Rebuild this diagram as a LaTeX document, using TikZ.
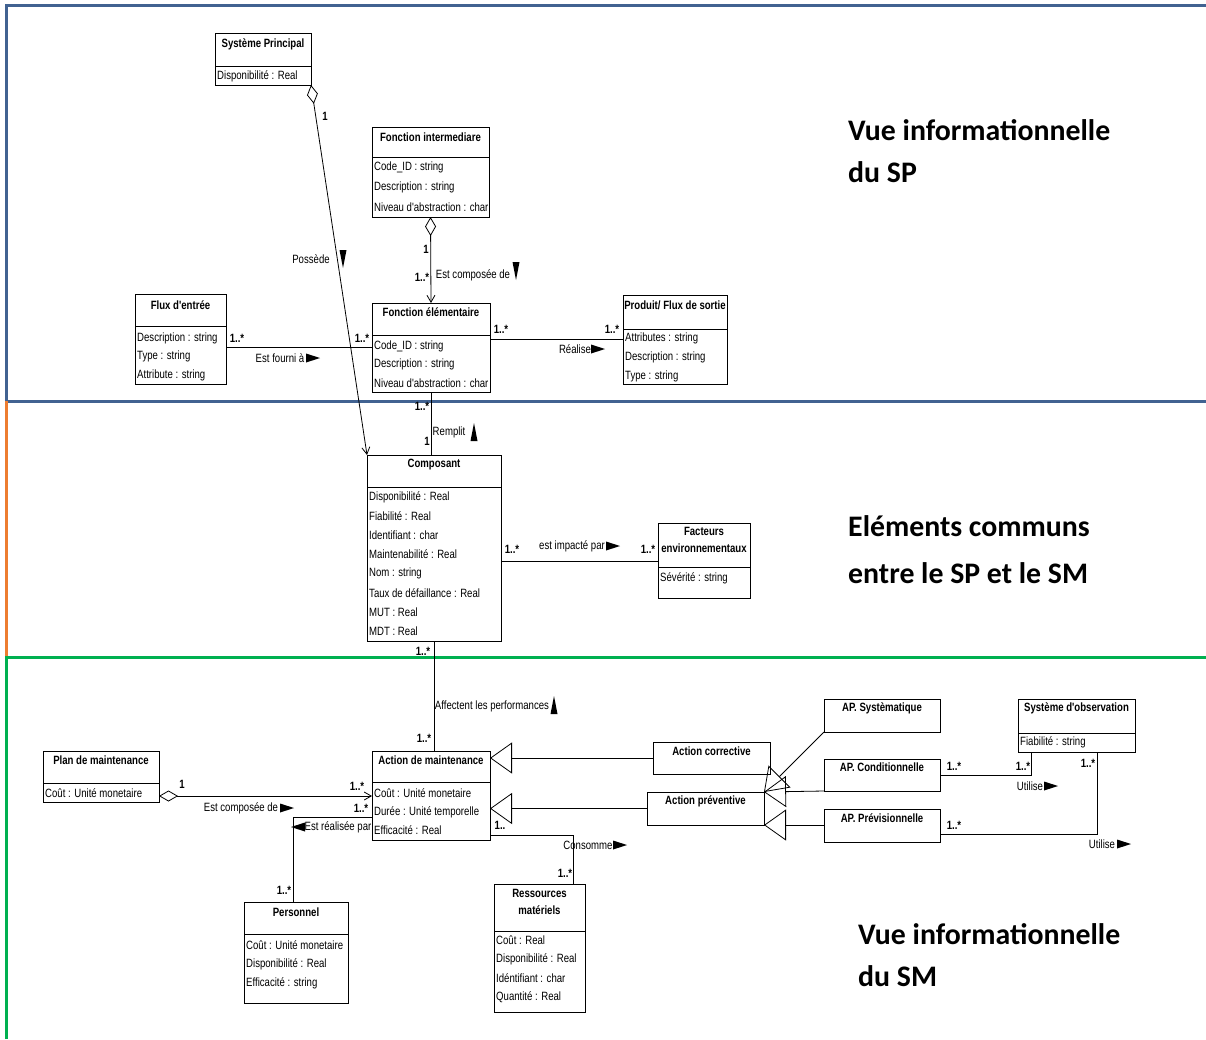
\documentclass[tikz,border=0pt]{standalone}
\usepackage{fontspec}
\setmainfont{Liberation Sans}
\newfontfamily\umlf[FakeStretch=0.8]{Liberation Sans}
\newfontfamily\bigf{Carlito}
\usetikzlibrary{arrows.meta,calc}

\tikzset{
  box/.style={draw, line width=0.9pt, inner sep=0pt, outer sep=0pt, anchor=north west},
  ttl/.style={font=\umlf\fontsize{12}{14}\selectfont\bfseries, inner sep=0pt},
  attr/.style={font=\umlf\fontsize{12}{14}\selectfont, inner sep=0pt, anchor=west},
  lbl/.style={font=\umlf\fontsize{12}{14}\selectfont, inner sep=0pt},
  mult/.style={font=\umlf\fontsize{12}{14}\selectfont\bfseries, inner sep=0pt},
  big/.style={font=\bigf\fontsize{29.8}{36}\selectfont\bfseries, inner sep=0pt, anchor=west},
  conn/.style={line width=0.8pt},
  agg/.style={conn, {Diamond[open,length=19pt,width=11pt]}-{Straight Barb[length=7pt,width=8pt]}},
  gen/.style={conn, -{Triangle[open,length=22pt,width=31pt]}},
  sepline/.style={line width=0.9pt},
  tri right/.pic={\fill (-7,-4.5) -- (7,0) -- (-7,4.5) -- cycle;},
  tri left/.pic={\fill (7,-4.5) -- (-7,0) -- (7,4.5) -- cycle;},
  tri down/.pic={\fill (-3.5,-9) -- (3.5,-9) -- (0,9) -- cycle;},
  tri up/.pic={\fill (-3.5,9) -- (3.5,9) -- (0,-9) -- cycle;},
}

% name, x, y, width, height, separator offset
\newcommand\umlbox[6]{%
  \node[box, minimum width=#4pt, minimum height=#5pt] (#1) at (#2,#3) {};
  \draw[sepline] ([yshift=-#6pt]#1.north west) -- ([yshift=-#6pt]#1.north east);}
\newcommand\umlplain[5]{%
  \node[box, minimum width=#4pt, minimum height=#5pt] (#1) at (#2,#3) {};}

\begin{document}
\begin{tikzpicture}[x=1pt, y=-1pt]
\fill[white] (0,0) rectangle (1206,1039);
\useasboundingbox (0,0) rectangle (1206,1039);

% section frames
\draw[line width=3pt, color={rgb,255:red,65;green,98;blue,145}] (1206,5.5) -- (6.8,5.5) -- (6.8,401) -- (1206,401);
\draw[line width=3pt, color={rgb,255:red,237;green,125;blue,49}] (6.8,401) -- (6.8,657);
\draw[line width=3pt, color={rgb,255:red,0;green,176;blue,80}] (6.8,1039) -- (6.8,657) -- (1206,657);

% big labels
\node[big] (v1a) at (848,130) {Vue informationnelle};
\node[big] (v1b) at (848,172) {du SP};
\node[big] (v2a) at (848,526) {Eléments communs};
\node[big] (v2b) at (848,573) {entre le SP et le SM};
\node[big] (v3a) at (858,934) {Vue informationnelle};
\node[big] (v3b) at (858,976) {du SM};

% ---------- classes ----------
\umlbox{sp}{215}{33}{96}{52}{33}
\node[ttl] (sp-t) at (263,44) {Système Principal};
\node[attr] (sp-a1) at (217,76) {Disponibilité : Real};

\umlbox{fi}{372}{127}{117}{90}{30}
\node[ttl] (fi-t) at (430.5,137) {Fonction intermediare};
\node[attr] (fi-a1) at (374,167) {Code\_ID : string};
\node[attr] (fi-a2) at (374,187) {Description : string};
\node[attr] (fi-a3) at (374,207) {Niveau d'abstraction : char};

\umlbox{fe}{372}{303}{118}{89}{32}
\node[ttl] (fe-t) at (431,312) {Fonction élémentaire};
\node[attr] (fe-a1) at (374,346) {Code\_ID : string};
\node[attr] (fe-a2) at (374,364.5) {Description : string};
\node[attr] (fe-a3) at (374,383) {Niveau d'abstraction : char};

\umlbox{flux}{135}{294}{91}{90}{32}
\node[ttl] (flux-t) at (180.5,305) {Flux d'entrée};
\node[attr] (flux-a1) at (137,338) {Description : string};
\node[attr] (flux-a2) at (137,356) {Type : string};
\node[attr] (flux-a3) at (137,375) {Attribute : string};

\umlbox{prod}{623}{295}{104}{89}{34}
\node[ttl] (prod-t) at (675,305) {Produit/ Flux de sortie};
\node[attr] (prod-a1) at (625,338) {Attributes : string};
\node[attr] (prod-a2) at (625,357) {Description : string};
\node[attr] (prod-a3) at (625,376) {Type : string};

\umlbox{comp}{367}{455}{134}{186}{32}
\node[ttl] (comp-t) at (434,465) {Composant};
\node[attr] (comp-a1) at (369,497) {Disponibilité : Real};
\node[attr] (comp-a2) at (369,516.2) {Fiabilité : Real};
\node[attr] (comp-a3) at (369,535.4) {Identifiant : char};
\node[attr] (comp-a4) at (369,554.6) {Maintenabilité : Real};
\node[attr] (comp-a5) at (369,573.8) {Nom : string};
\node[attr] (comp-a6) at (369,593) {Taux de défaillance : Real};
\node[attr] (comp-a7) at (369,612.2) {MUT : Real};
\node[attr] (comp-a8) at (369,631.4) {MDT : Real};

\umlbox{fact}{658}{523}{92}{75}{44}
\node[ttl] (fact-t1) at (704,531) {Facteurs};
\node[ttl] (fact-t2) at (704,548) {environnementaux};
\node[attr] (fact-a1) at (660,578) {Sévérité : string};

\umlbox{plan}{43}{751}{116}{51}{32}
\node[ttl] (plan-t) at (101,760) {Plan de maintenance};
\node[attr] (plan-a1) at (45,793) {Coût : Unité monetaire};

\umlbox{am}{372}{751}{118}{89}{31}
\node[ttl] (am-t) at (431,760) {Action de maintenance};
\node[attr] (am-a1) at (374,793) {Coût : Unité monetaire};
\node[attr] (am-a2) at (374,812) {Durée : Unité temporelle};
\node[attr] (am-a3) at (374,830) {Efficacité : Real};

\umlplain{ac}{653}{742}{117}{32}
\node[ttl] (ac-t) at (711.5,751) {Action corrective};
\umlplain{ap}{647}{792}{117}{33}
\node[ttl] (ap-t) at (705.5,801) {Action préventive};
\umlplain{aps}{824}{699}{116}{33}
\node[ttl] (aps-t) at (882,708) {AP. Systèmatique};
\umlplain{apc}{824}{759}{116}{32}
\node[ttl] (apc-t) at (882,767) {AP. Conditionnelle};
\umlplain{app}{824}{809}{116}{33}
\node[ttl] (app-t) at (882,818) {AP. Prévisionnelle};

\umlbox{obs}{1018}{699}{117}{53}{34}
\node[ttl] (obs-t) at (1076.5,708) {Système d'observation};
\node[attr] (obs-a1) at (1020,742) {Fiabilité : string};

\umlbox{pers}{244}{902}{104}{101}{32}
\node[ttl] (pers-t) at (296,912) {Personnel};
\node[attr] (pers-a1) at (246,945) {Coût : Unité monetaire};
\node[attr] (pers-a2) at (246,964) {Disponibilité : Real};
\node[attr] (pers-a3) at (246,983) {Efficacité : string};

\umlbox{res}{494}{884}{91}{128}{47}
\node[ttl] (res-t1) at (539.5,893) {Ressources};
\node[ttl] (res-t2) at (539.5,910) {matériels};
\node[attr] (res-a1) at (496,940) {Coût : Real};
\node[attr] (res-a2) at (496,959) {Disponibilité : Real};
\node[attr] (res-a3) at (496,978) {Idéntifiant : char};
\node[attr] (res-a4) at (496,997) {Quantité : Real};

% ---------- connectors ----------
\draw[agg] (sp.south east) -- (comp.north west);
\draw[agg] (fi.south) -- (fe.north);
\draw[conn] (flux.east |- 0,347) -- (fe.west |- 0,347);
\draw[conn] (fe.east |- 0,339) -- (prod.west |- 0,339);
\draw[conn] (fe.south) -- (fe.south |- comp.north);
\draw[conn] (comp.east |- 0,561) -- (fact.west |- 0,561);
\draw[conn] (comp.south) -- (comp.south |- am.north);
\draw[agg] (plan.east |- 0,796) -- (am.west |- 0,796);
\draw[conn] (am.west |- 0,817) -| (pers.north -| 293,0);
\draw[conn] (am.east |- 0,835) -| (res.north -| 573,0);
\draw[gen] (ac.west) -- (am.east |- ac.west);
\draw[gen] (ap.west) -- (am.east |- ap.west);
\draw[gen] (aps.south west) -- (ap.north east);
\draw[gen] (apc.south west) -- (ap.north east);
\draw[gen] (app.west |- ap.south east) -- (ap.south east);
\draw[conn] (apc.east) -| (obs.south -| 1031,0);
\draw[conn] (app.east |- 0,834) -| (obs.south -| 1097.5,0);

% ---------- connector labels ----------
\node[mult] (m1) at (325,116) {1};
\node[lbl] (l1) at (311,259) {Possède};
\pic at (343,259) {tri down};
\node[mult] (m2) at (426,249) {1};
\node[mult] (m3) at (422,277) {1..*};
\node[lbl] (l2) at (473,275) {Est composée de};
\pic at (516,271) {tri down};

\node[mult] (m4) at (237,338) {1..*};
\node[mult] (m5) at (362,338) {1..*};
\node[lbl] (l3) at (280,358) {Est fourni à};
\pic at (313,358) {tri right};
\node[mult] (m6) at (501,329) {1..*};
\node[mult] (m7) at (612,329) {1..*};
\node[lbl] (l4) at (575,349) {Réalise};
\pic at (598,349) {tri right};

\node[mult] (m8) at (422,406) {1..*};
\node[lbl] (l5) at (449,432) {Remplit};
\pic at (474,432) {tri up};
\node[mult] (m9) at (427,441) {1};

\node[mult] (m10) at (512,549) {1..*};
\node[mult] (m11) at (648,549) {1..*};
\node[lbl] (l6) at (572,546) {est impacté par};
\pic at (613,546) {tri right};

\node[mult] (m12) at (423,651) {1..*};
\node[lbl] (l7) at (492,706) {Affectent les performances};
\pic at (554,705) {tri up};
\node[mult] (m13) at (424,738) {1..*};

\node[mult] (m14) at (182,784) {1};
\node[mult] (m15) at (357,786) {1..*};
\node[lbl] (l8) at (241,808) {Est composée de};
\pic at (287,808) {tri right};
\node[mult] (m16) at (361,808) {1..*};
\node[lbl] (l9) at (338,827) {Est réalisée par};
\pic at (298,827) {tri left};
\node[mult] (m17) at (500,825) {1..};
\node[lbl] (l10) at (588,845) {Consomme};
\pic at (620,845) {tri right};
\node[mult] (m18) at (565,873) {1..*};
\node[mult] (m19) at (284,890) {1..*};

\node[mult] (m20) at (954,766) {1..*};
\node[mult] (m21) at (1023,766) {1..*};
\node[lbl] (l11) at (1030,786) {Utilise};
\pic at (1051,786) {tri right};
\node[mult] (m22) at (954,825) {1..*};
\node[mult] (m23) at (1088,763) {1..*};
\node[lbl] (l12) at (1102,844) {Utilise};
\pic at (1124,844) {tri right};
\end{tikzpicture}
\end{document}
